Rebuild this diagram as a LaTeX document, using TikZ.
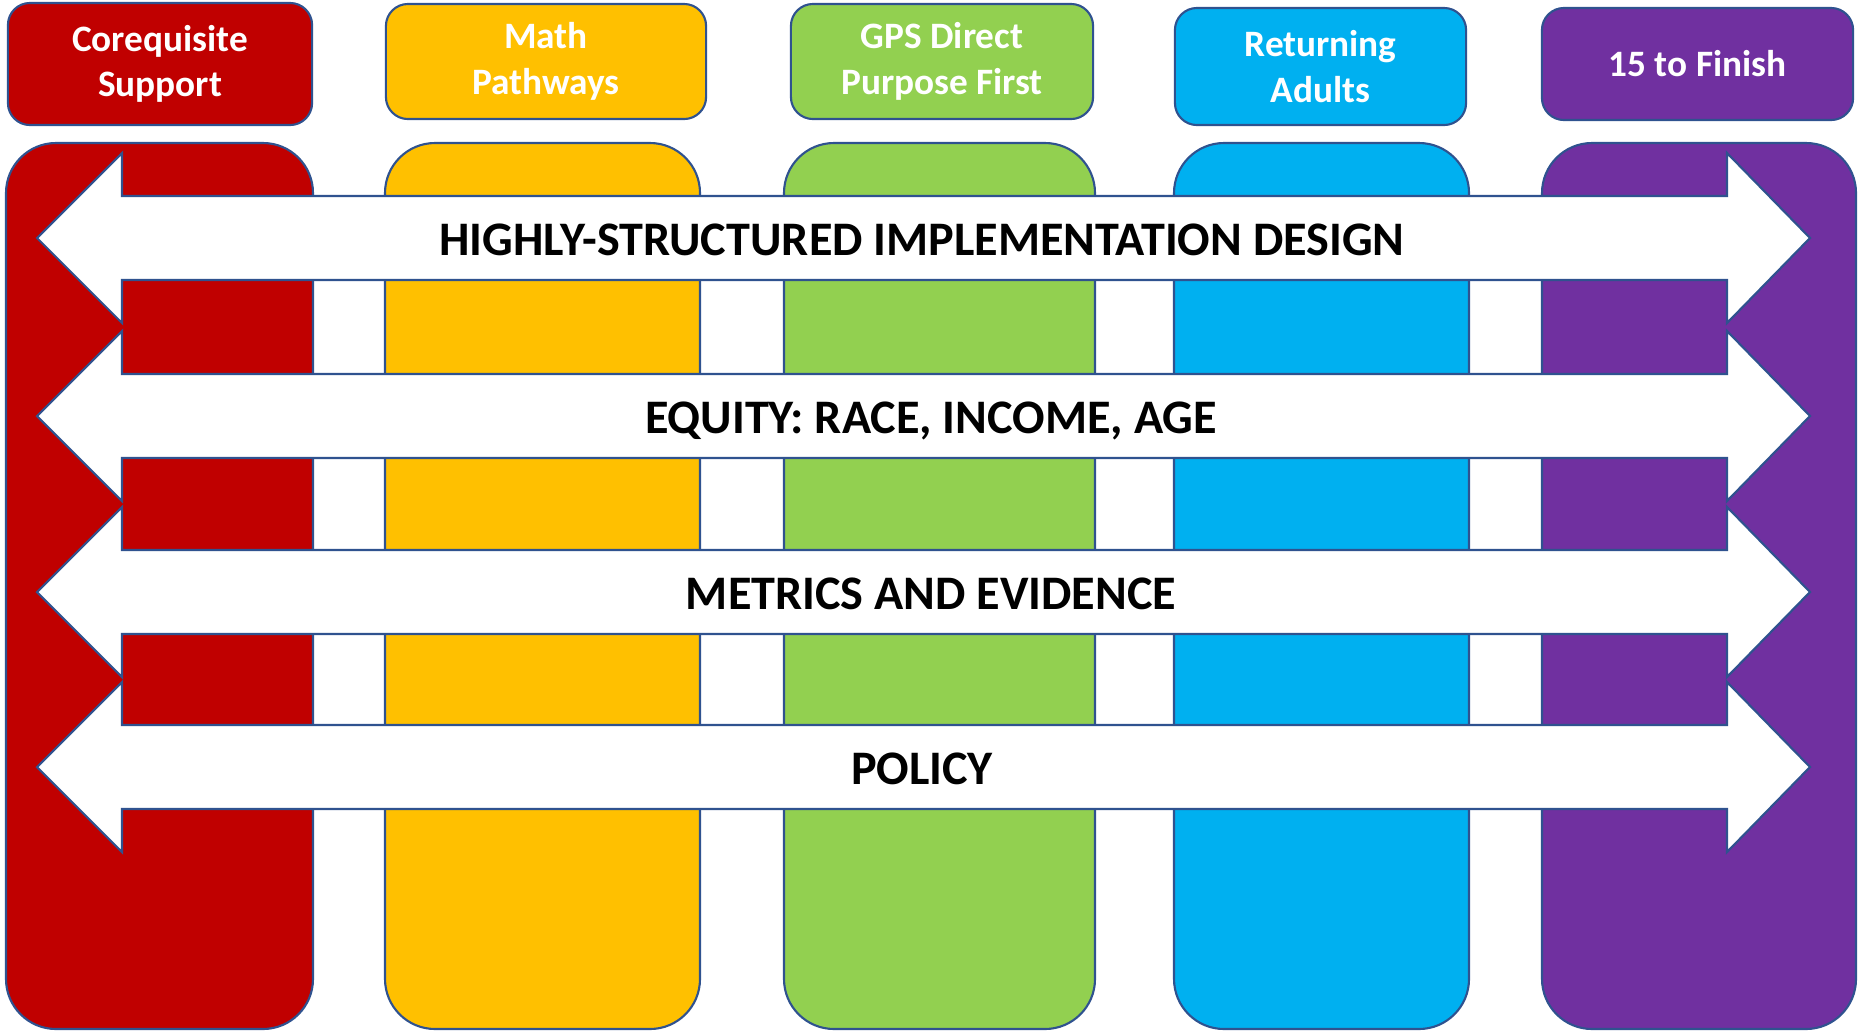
\documentclass[tikz,border=0pt]{standalone}
\usepackage{fontspec}
\setmainfont{Carlito}

\definecolor{edge}{HTML}{2F528F}
\definecolor{coreq}{HTML}{C00000}
\definecolor{mathp}{HTML}{FFC000}
\definecolor{gps}{HTML}{92D050}
\definecolor{adults}{HTML}{00B0F0}
\definecolor{finish}{HTML}{7030A0}

\begin{document}
\begin{tikzpicture}[x=0.01cm, y=-0.01cm,
    col/.style={draw=edge, line width=0.6pt, rounded corners=0.5cm},
    hdr/.style={draw=edge, line width=0.6pt, rounded corners=0.22cm, text=white, align=center,
        inner sep=0pt, font=\fontsize{10.6}{12.9}\selectfont\bfseries},
    band/.style={draw=edge, line width=0.6pt, fill=white},
    bandtext/.style={anchor=base, inner sep=0pt, font=\fontsize{13.7}{15}\selectfont\bfseries}]
    \useasboundingbox (0,0) rectangle (1858,1030);

    % columns
    \foreach \l/\r/\c in {6/313/coreq, 385/700/mathp, 784/1095/gps, 1174/1469/adults, 1542/1856/finish}
        \filldraw[col, fill=\c] (\l,1029) rectangle (\r,143);

    % headers
    \node[hdr, fill=coreq, minimum width=3.04cm, minimum height=1.22cm] (coreqhdr) at (160,64) {Corequisite\\Support};
    \node[hdr, fill=mathp, minimum width=3.2cm, minimum height=1.15cm] (mathhdr) at (546,61.5) {Math\\Pathways};
    \node[hdr, fill=gps, minimum width=3.02cm, minimum height=1.15cm] (gpshdr) at (942,61.5) {GPS Direct\\Purpose First};
    \node[hdr, fill=adults, minimum width=2.91cm, minimum height=1.17cm] (adulthdr) at (1320.5,66.5) {Returning\\Adults};
    \node[hdr, fill=finish, minimum width=3.11cm, minimum height=1.12cm] (finishhdr) at (1697.5,64) {15 to Finish};

    % double arrows across the columns
    \foreach \c/\t/\tx [count=\i] in {238/{HIGHLY-STRUCTURED IMPLEMENTATION DESIGN}/922,
            416/{EQUITY: RACE, INCOME, AGE}/931, 592/{METRICS AND EVIDENCE}/931, 767/{POLICY}/922} {
        \filldraw[band] (37,\c) -- (122,\c-85) -- (122,\c-42) -- (1727,\c-42) -- (1727,\c-85) -- (1810,\c)
            -- (1727,\c+85) -- (1727,\c+42) -- (122,\c+42) -- (122,\c+85) -- cycle;
        \node[bandtext] (band\i) at (\tx,\c+17) {\t};
    }
\end{tikzpicture}
\end{document}
